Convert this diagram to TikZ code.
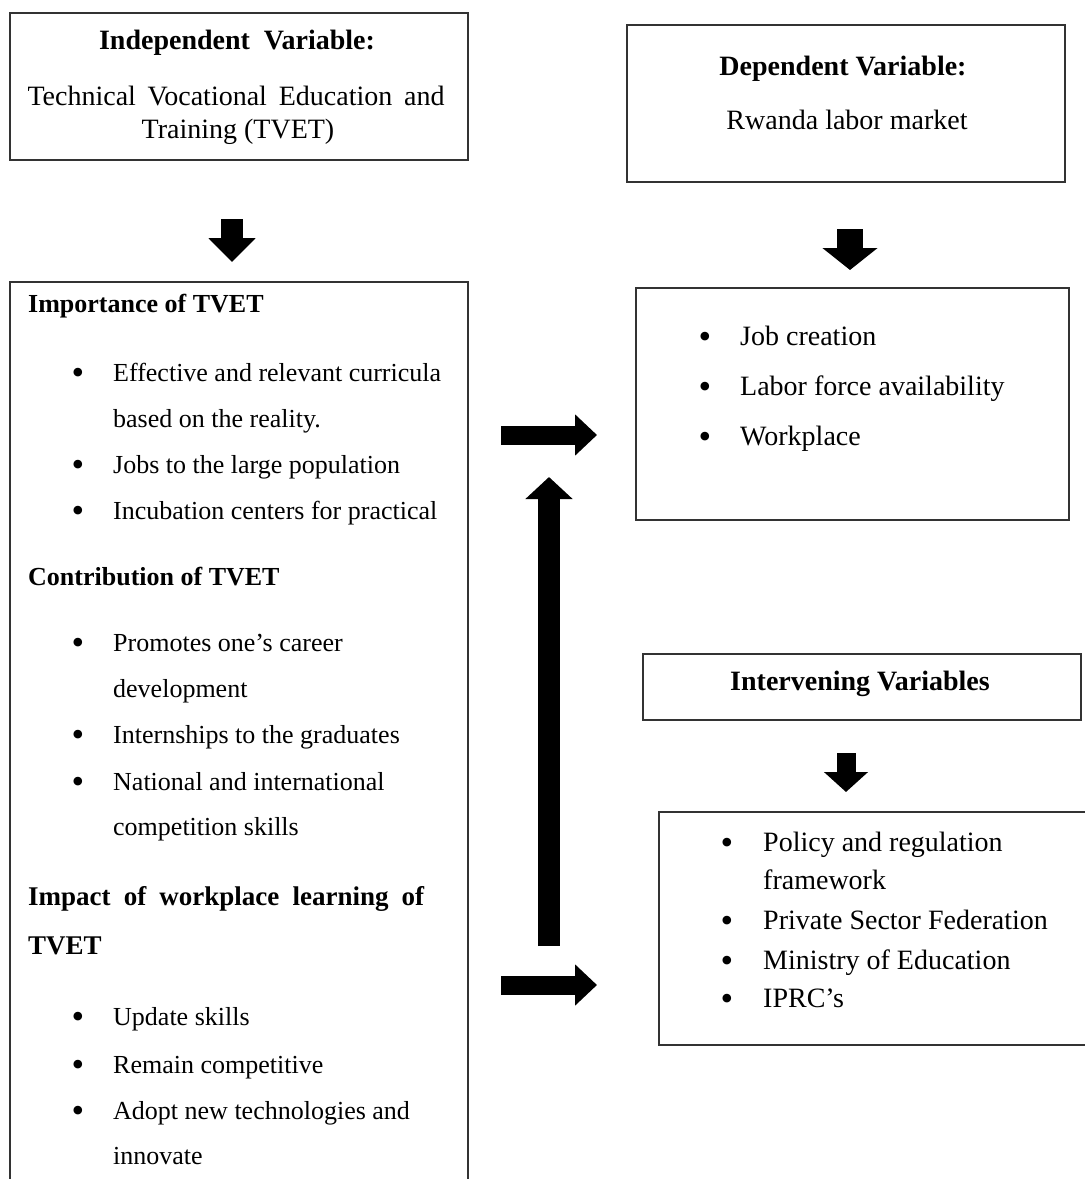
\documentclass[tikz,border=0pt]{standalone}
\usepackage{fontspec}
\setmainfont{Liberation Serif}
\usetikzlibrary{arrows.meta}
\begin{document}
\begin{tikzpicture}[x=1pt,y=-1pt,
  box/.style={draw=black!80, line width=1.4pt, inner sep=0pt, fill=none},
  txt/.style={anchor=base west, inner sep=0pt, font=\fontsize{26}{30}\selectfont},
  rtxt/.style={anchor=base west, inner sep=0pt, font=\fontsize{28}{32}\selectfont},
  ctxt/.style={anchor=base, inner sep=0pt, font=\fontsize{28}{32}\selectfont},
  head/.style={anchor=base west, inner sep=0pt, font=\fontsize{26}{30}\selectfont\bfseries},
  bighead/.style={anchor=base west, inner sep=0pt, font=\fontsize{27}{32}\selectfont\bfseries},
  bul/.style={anchor=base, inner sep=0pt, font=\fontsize{36}{40}\selectfont},
  blockarrow/.style={line width=#1, line cap=butt},
]
\useasboundingbox (0,0) rectangle (1085,1179);
\fill[white] (0,0) rectangle (1085,1179);

% boxes
\node[box, minimum width=458pt, minimum height=147pt] (ind) at (239,86.5) {};
\node[box, minimum width=438pt, minimum height=157pt] (dep) at (846,103.5) {};
\node[box, minimum width=458pt, minimum height=918pt] (imp) at (239,741) {};
\node[box, minimum width=433pt, minimum height=232pt] (jobs) at (852.5,404) {};
\node[box, minimum width=438pt, minimum height=66pt] (intv) at (862,687) {};
\node[box, minimum width=441pt, minimum height=233pt] (ivl) at (879.5,928.5) {};

% box titles
\node[ctxt, font=\fontsize{28}{32}\selectfont\bfseries] (indt) at (237,49) {Independent\ \ Variable:};
\node[ctxt] (indb1) at (236,105) {\hbox to 417pt{Technical\hfill Vocational\hfill Education\hfill and}};
\node[ctxt] (indb2) at (238,138) {Training (TVET)};
\node[ctxt, font=\fontsize{28}{32}\selectfont\bfseries] (dept) at (843,75) {Dependent Variable:};
\node[ctxt] (depb) at (847,129) {Rwanda labor market};
\node[ctxt, font=\fontsize{28}{32}\selectfont\bfseries] (intt) at (860,690) {Intervening Variables};

% left box
\node[head] (h1) at (28,312) {Importance of TVET};
\node[head] (h2) at (28,585) {Contribution of TVET};
\node[bighead] (h3) at (28,905) {\hbox to 396pt{Impact\hfill of\hfill workplace\hfill learning\hfill of}};
\node[bighead] (h3b) at (28,954) {TVET};

\foreach \n/\y/\t/\b in {
  l1/381/{Effective and relevant curricula}/1,
  l2/427/{based on the reality.}/0,
  l3/473/{Jobs to the large population}/1,
  l4/519/{Incubation centers for practical}/1,
  l5/651/{Promotes one’s career}/1,
  l6/697/{development}/0,
  l7/743/{Internships to the graduates}/1,
  l8/790/{National and international}/1,
  l9/835/{competition skills}/0,
  l10/1025/{Update skills}/1,
  l11/1073/{Remain competitive}/1,
  l12/1119/{Adopt new technologies and}/1,
  l13/1164/{innovate}/0}{
  \node[txt] (\n) at (113,\y) {\t};
  \ifnum\b=1 \node[bul] (\n b) at (78,\y+3) {•};\fi
}

% right box items
\foreach \n/\y/\t in {r1/345/{Job creation}, r2/395/{Labor force availability}, r3/445/{Workplace}}{
  \node[rtxt] (\n) at (740,\y) {\t};
  \node[bul] (\n b) at (705,\y+3) {•};
}
\foreach \n/\y/\t/\b in {s1/851/{Policy and regulation}/1, s2/889/{framework}/0,
  s3/929/{Private Sector Federation}/1, s4/969/{Ministry of Education}/1, s5/1007/{IPRC’s}/1}{
  \node[rtxt] (\n) at (763,\y) {\t};
  \ifnum\b=1 \node[bul] (\n b) at (727,\y+3) {•};\fi
}

% arrows
\coordinate (a1s) at (232,219); \coordinate (a1e) at (232,262);
\coordinate (a2s) at (850,229); \coordinate (a2e) at (850,270);
\coordinate (a3s) at (846,753); \coordinate (a3e) at (846,792);
\coordinate (a4s) at (501,435); \coordinate (a4e) at (597,435);
\coordinate (a5s) at (501,985); \coordinate (a5e) at (597,985);
\coordinate (a6s) at (549,946); \coordinate (a6e) at (549,477);
\draw[blockarrow=22pt, -{Triangle[width=46pt,length=24pt]}] (a1s) -- (a1e);
\draw[blockarrow=26pt, -{Triangle[width=54pt,length=22pt]}] (a2s) -- (a2e);
\draw[blockarrow=19pt, -{Triangle[width=43pt,length=20pt]}] (a3s) -- (a3e);
\draw[blockarrow=19pt, -{Triangle[width=40pt,length=22pt]}] (a4s) -- (a4e);
\draw[blockarrow=19pt, -{Triangle[width=40pt,length=22pt]}] (a5s) -- (a5e);
\draw[blockarrow=22pt, -{Triangle[width=46pt,length=22pt]}] (a6s) -- (a6e);
\end{tikzpicture}
\end{document}
